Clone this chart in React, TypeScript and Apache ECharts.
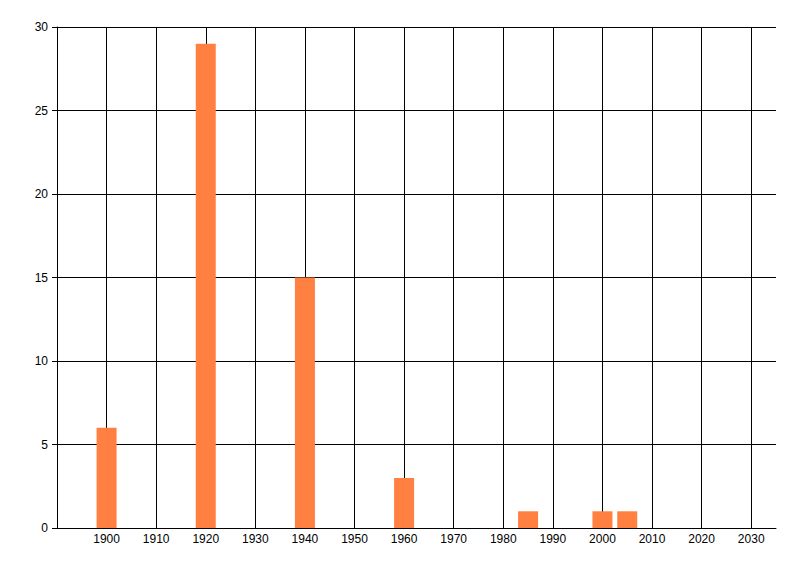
import React, { useEffect, useRef } from "react";
import * as echarts from "echarts";

const years = [1900, 1920, 1940, 1960, 1985, 2000, 2005];
const counts = [6, 29, 15, 3, 1, 1, 1];
const yTicks = [0, 5, 10, 15, 20, 25, 30];

export default function App() {
  const ref = useRef<HTMLDivElement>(null);
  useEffect(() => {
    if (!ref.current) return;
    const chart = echarts.init(ref.current, undefined, { renderer: "svg" });
    chart.setOption({
      animation: false,
      backgroundColor: "#ffffff",
      textStyle: { fontFamily: "Liberation Sans" },
      grid: { left: 57, right: 24, top: 27, bottom: 48, containLabel: false },
      xAxis: {
        type: "value",
        min: 1890,
        max: 2035,
        interval: 10,
        axisLine: { show: true, onZero: false, lineStyle: { color: "#000", width: 1 } },
        axisTick: { show: false },
        axisLabel: {
          color: "#000",
          fontSize: 12,
          margin: 5,
          showMinLabel: false,
          showMaxLabel: false,
          formatter: (v: number) => (v % 10 === 0 && v !== 1890 ? String(v) : ""),
        },
        splitLine: { show: true, showMinLine: false, showMaxLine: false, lineStyle: { color: "#000", width: 1 } },
      },
      yAxis: {
        type: "value",
        min: yTicks[0],
        max: yTicks[yTicks.length - 1],
        interval: 5,
        axisLine: { show: true, lineStyle: { color: "#000", width: 1 } },
        axisTick: { show: true, length: 5, lineStyle: { color: "#000" } },
        axisLabel: { color: "#000", fontSize: 12, margin: 9 },
        splitLine: { show: true, lineStyle: { color: "#000", width: 1 } },
      },
      series: [
        {
          type: "bar",
          barWidth: 20,
          itemStyle: { color: "#FF8040" },
          data: years.map((y, i) => [y, counts[i]]),
        },
      ],
    });
    return () => chart.dispose();
  }, []);
  return (
    <div
      ref={ref}
      style={{ position: "absolute", left: 0, top: 0, width: 800, height: 576 }}
    />
  );
}
